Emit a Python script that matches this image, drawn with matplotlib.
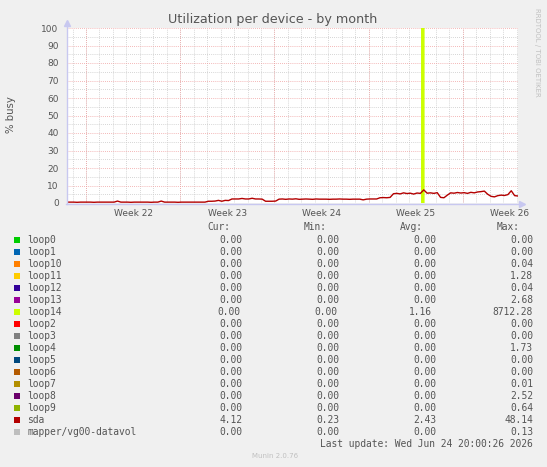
import numpy as np
import matplotlib as mpl
mpl.use("Agg")
import matplotlib.pyplot as plt

W, H = 547, 467

title = "Utilization per device - by month"
ylabel = "% busy"
week_labels = ["Week 22", "Week 23", "Week 24", "Week 25", "Week 26"]

# sda utilisation, one value per 6 hours over the 33.5 day window
sda_vals = [0.5, 0.5, 0.5, 0.4, 0.5, 0.5, 0.5, 0.5, 0.4, 0.5, 0.5, 0.5, 0.5, 0.5, 0.5,
            1.1, 0.5, 0.5, 0.5, 0.4, 0.5, 0.5, 0.5, 0.5, 0.5, 0.4, 0.5, 0.5,
            1.1, 0.5, 0.5, 0.5, 0.5, 0.4, 0.5, 0.5, 0.5, 0.5, 0.5, 0.5, 0.5, 0.5,
            1.0, 1.0, 1.1, 1.5, 1.0, 1.5, 1.4, 2.3,
            2.3, 2.3, 2.6, 2.3, 2.3, 2.7, 2.3, 2.3, 2.2, 1.0,
            1.0, 1.0, 1.1, 2.2,
            2.3, 2.1, 2.3, 2.2, 2.4, 2.1, 2.2, 2.3, 2.2, 2.1, 2.3, 2.2, 2.2, 2.2, 2.1, 2.2,
            2.2, 2.3, 2.2, 2.2, 2.1, 2.2, 2.2, 2.2, 1.8, 2.2, 2.3, 2.3, 2.3,
            3.0, 3.1, 3.0, 3.2,
            5.3, 5.5, 5.2, 5.8, 5.4, 5.6, 5.1, 5.7, 5.5,
            7.5, 5.6, 5.8, 5.5, 5.9,
            3.2, 3.0, 4.5,
            5.8, 5.6, 6.0, 5.7, 5.9, 5.5, 6.1, 5.8, 6.3, 6.5, 6.8,
            5.0, 3.8, 3.5, 4.2, 4.5, 4.3, 4.8, 7.0, 4.2, 4.0]
sda_days = np.arange(len(sda_vals)) * 0.25

loop14_days = [26.38, 26.43, 26.48]
loop14_vals = [0.0, 8712.28, 0.0]

names = ["loop0", "loop1", "loop10", "loop11", "loop12", "loop13", "loop14", "loop2",
         "loop3", "loop4", "loop5", "loop6", "loop7", "loop8", "loop9", "sda",
         "mapper/vg00-datavol"]
colors = ["#00CC00", "#0066B3", "#FF8000", "#FFCC00", "#330099", "#990099", "#CCFF00",
          "#FF0000", "#808080", "#008F00", "#00487D", "#B35A00", "#B38F00", "#6B006B",
          "#8FB300", "#B30000", "#BEBEBE"]
cur = [0.00, 0.00, 0.00, 0.00, 0.00, 0.00, 0.00, 0.00, 0.00, 0.00, 0.00, 0.00, 0.00,
       0.00, 0.00, 4.12, 0.00]
vmin = [0.00, 0.00, 0.00, 0.00, 0.00, 0.00, 0.00, 0.00, 0.00, 0.00, 0.00, 0.00, 0.00,
        0.00, 0.00, 0.23, 0.00]
vavg = [0.00, 0.00, 0.00, 0.00, 0.00, 0.00, 1.16, 0.00, 0.00, 0.00, 0.00, 0.00, 0.00,
        0.00, 0.00, 2.43, 0.00]
vmax = [0.00, 0.00, 0.04, 1.28, 0.04, 2.68, 8712.28, 0.00, 0.00, 1.73, 0.00, 0.00, 0.01,
        2.52, 0.64, 48.14, 0.13]
last_update = "Last update: Wed Jun 24 20:00:26 2026"


def px(x, y):
    return x / W, 1 - y / H


def main():
    fig = plt.figure(figsize=(W / 100, H / 100), dpi=100, facecolor="#f0f0f0")
    x0, x1, y0, y1 = 67, 518, 203, 28
    ax = fig.add_axes([x0 / W, 1 - y0 / H, (x1 - x0) / W, (y0 - y1) / H])
    ax.set_facecolor("white")
    xmax = 33.5
    ax.set_xlim(0, xmax)
    ax.set_ylim(0, 100)

    first_week = 1.41
    for d in np.arange(first_week - 1, xmax, 1.0):
        ax.axvline(d, color="#c8c8c8", lw=0.6, ls=(0, (1, 1.5)), zorder=0)
    for v in range(5, 100, 10):
        ax.axhline(v, color="#c8c8c8", lw=0.6, ls=(0, (1, 1.5)), zorder=0)
    for d in np.arange(first_week, xmax, 7.0):
        ax.axvline(d, color="#f0a0a0", lw=0.6, ls=(0, (1, 1.5)), zorder=0.5)
    for v in range(10, 101, 10):
        ax.axhline(v, color="#f0a0a0", lw=0.6, ls=(0, (1, 1.5)), zorder=0.5)

    ax.plot(loop14_days, loop14_vals, color=colors[6], lw=1.6, zorder=2)
    ax.plot(sda_days, sda_vals, color=colors[15], lw=1.0, zorder=3)

    for s in ax.spines.values():
        s.set_visible(False)
    ax.set_yticks(range(0, 101, 10))
    ax.set_yticklabels([str(v) for v in range(0, 101, 10)])
    ax.set_xticks(np.arange(first_week + 3.5, xmax + 1, 7.0))
    ax.set_xticklabels(week_labels)
    ax.tick_params(axis="both", length=0, labelsize=6.5, labelcolor="#555555", pad=4)
    ax.tick_params(axis="y", pad=6)

    # axis lines with arrows
    axc = "#c8c8f0"
    fig.add_artist(plt.Line2D([x0 / W, x0 / W], [1 - 204 / H, 1 - 22 / H], color=axc, lw=1.0))
    fig.add_artist(plt.Line2D([66 / W, 523 / W], [1 - 203.6 / H, 1 - 203.6 / H], color=axc, lw=1.0))
    fig.add_artist(plt.Line2D([x0 / W], [1 - 23 / H], marker="^", ms=5, color=axc, lw=0))
    fig.add_artist(plt.Line2D([522 / W], [1 - 203.6 / H], marker=">", ms=5, color=axc, lw=0))

    fig.text(*px(273, 19), title, ha="center", va="center", fontsize=9.2, color="#555555")
    fig.text(*px(11, 115), ylabel, ha="center", va="center", rotation=90, fontsize=7.3,
             color="#555555")
    fig.text(*px(537, 52), "RRDTOOL / TOBI OETIKER", ha="center", va="center", rotation=270,
             fontsize=5, color="#c0c0c0")

    mono = dict(family="DejaVu Sans Mono", fontsize=6.9, color="#555555", va="center")
    fig.text(*px(230, 227), "Cur:", ha="right", **mono)
    fig.text(*px(327, 227), "Min:", ha="right", **mono)
    fig.text(*px(423, 227), "Avg:", ha="right", **mono)
    fig.text(*px(520, 227), "Max:", ha="right", **mono)
    for i, name in enumerate(names):
        y = 240 + 12 * i
        fig.add_artist(plt.Rectangle(px(14, y + 3), 6 / W, 6 / H, color=colors[i], lw=0))
        fig.text(*px(27, y), name, ha="left", **mono)
        shift = 1.5 if name == "loop14" else 0
        fig.text(*px(242 - shift, y), f"{cur[i]:.2f}", ha="right", **mono)
        fig.text(*px(339 - shift, y), f"{vmin[i]:.2f}", ha="right", **mono)
        fig.text(*px(436 - 3 * shift, y), f"{vavg[i]:.2f}", ha="right", **mono)
        fig.text(*px(533, y), f"{vmax[i]:.2f}", ha="right", **mono)
    fig.text(*px(533, 444), last_update, ha="right", **mono)
    fig.text(*px(275, 456), "Munin 2.0.76", ha="center", va="center", fontsize=5,
             color="#c0c0c0")

    fig.savefig("out.png", dpi=100, facecolor=fig.get_facecolor())
    plt.close(fig)


if __name__ == "__main__":
    main()
